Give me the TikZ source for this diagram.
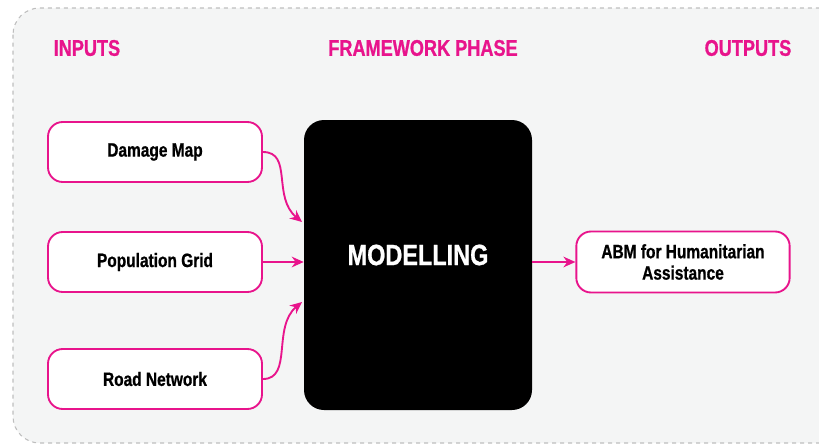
\documentclass[tikz,border=0pt]{standalone}
\usepackage{fontspec}
\setmainfont{Liberation Sans}[FakeStretch=0.8,BoldFeatures={FakeBold=0.8}]
\usetikzlibrary{arrows.meta}
\definecolor{hotpink}{RGB}{232,20,140}
\definecolor{panelgray}{RGB}{244,245,245}
\definecolor{dashgray}{RGB}{190,190,190}
\begin{document}
\begin{tikzpicture}[x=0.75pt,y=-0.75pt]

    \tikzset{inputbox/.style={draw=hotpink,line width=1.4pt,fill=white,rounded corners=11pt,
                              minimum width=160.5pt,minimum height=45pt,align=center,
                              font=\bfseries\fontsize{14.5}{16}\selectfont},
             header/.style={text=hotpink,font=\bfseries\fontsize{17}{18}\selectfont},
             phasebox/.style={fill=black,rounded corners=15pt,minimum width=171pt,minimum height=217.5pt,
                              text=white,font=\bfseries\fontsize{22}{24}\selectfont}}

    \useasboundingbox (0,0) rectangle (819,447);
    \begin{scope}
    \clip (0,0) rectangle (819,447);
    \draw[dashgray,fill=panelgray,dashed,line width=0.8pt,rounded corners=20pt] (13,8) rectangle (860,443);
    \end{scope}

    \node[header,anchor=west] (inputs) at (49,48) {INPUTS};
    \node[header] (phase) at (423,48) {FRAMEWORK PHASE};
    \node[header,anchor=east] (outputs) at (796,48) {OUTPUTS};

    \node[inputbox] (damage) at (155,152) {Damage Map};
    \node[inputbox] (population) at (155,262) {Population Grid};
    \node[inputbox] (road) at (155,379) {Road Network};

    \node[phasebox] (model) at (418,265) {};
    \node[text=white,font=\bfseries\fontsize{22}{24}\selectfont] (modeltext) at (418,255) {MODELLING};

    \node[inputbox,minimum width=160pt,minimum height=45.75pt] (abm) at (683,262) {ABM for Humanitarian\\Assistance};

    \begin{scope}[every path/.style={draw=hotpink,line width=1.4pt,-{Stealth[length=9pt,width=8pt]}}]
        \draw (damage.east) .. controls +(30,0) and +(-30,-25) .. (302,222);
        \draw (population.east) -- (model.west |- population.east);
        \draw (road.east) .. controls +(30,0) and +(-30,25) .. (302,302);
        \draw (model.east |- abm.west) -- (abm.west);
    \end{scope}
\end{tikzpicture}
\end{document}
